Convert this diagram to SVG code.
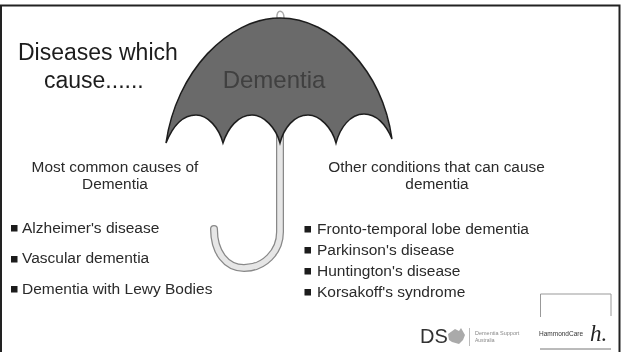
<svg xmlns="http://www.w3.org/2000/svg" width="624" height="352" viewBox="0 0 624 352">
<defs>
<style>
text{font-family:"Liberation Sans",Arial,sans-serif;fill:#2a2a2a}
.h{font-size:23px;fill:#1c1c1c}
.c{font-size:15.400px;text-anchor:middle}
.b{font-size:15.500px}
.sq{fill:#1c1c1c}
</style>
<filter id="soft" x="-5%" y="-5%" width="110%" height="110%"><feGaussianBlur stdDeviation="0.400"/></filter>
</defs>
<rect width="624" height="352" fill="#fff"/>
<path id="frame" d="M1 352V5.500H619.500V352" fill="none" stroke="#222" stroke-width="2"/>
<g id="title" filter="url(#soft)">
<text class="h" x="18" y="60">Diseases which</text>
<text class="h" x="44" y="88">cause......</text>
</g>
<g id="umbrella" filter="url(#soft)">
<path d="M277 18C276 9 284 9 284 18" fill="none" stroke="#aaa" stroke-width="1.500"/>
<path d="M280 136V232C280 252 264 268 244 268C226 268 214 252 214 229" fill="none" stroke="#888" stroke-width="8" stroke-linecap="round"/>
<path d="M280 136V232C280 252 264 268 244 268C226 268 214 252 214 229" fill="none" stroke="#e6e6e6" stroke-width="5.500" stroke-linecap="round"/>
<path d="M166 143C176 72 228 18 280 18C332 18 382 70 392 139C386 124 376 114 364 114C350 114 340 128 336 143C332 128 320 115 308 115C294 115 284 128 280 143C276 128 264 115 252 115C238 115 228 128 223 143C219 128 208 115 196 115C182 115 172 128 166 143Z" fill="#6a6a6a" stroke="#1e1e1e" stroke-width="1.500"/>
<text x="274" y="88" font-size="24" text-anchor="middle" style="fill:#404040">Dementia</text>
</g>
<g id="left-list" filter="url(#soft)">
<text class="c" x="115" y="172">Most common causes of</text>
<text class="c" x="115" y="189">Dementia</text>
<rect class="sq" x="11" y="225" width="6.500" height="6.500"/>
<text class="b" x="22" y="233">Alzheimer's disease</text>
<rect class="sq" x="11" y="256" width="6.500" height="6.500"/>
<text class="b" x="22" y="263">Vascular dementia</text>
<rect class="sq" x="11" y="286" width="6.500" height="6.500"/>
<text class="b" x="22" y="294">Dementia with Lewy Bodies</text>
</g>
<g id="right-list" filter="url(#soft)">
<text class="c" x="436.500" y="172">Other conditions that can cause</text>
<text class="c" x="437" y="189">dementia</text>
<rect class="sq" x="304.500" y="226" width="6.500" height="6.500"/>
<text class="b" x="317" y="234">Fronto-temporal lobe dementia</text>
<rect class="sq" x="304.500" y="247" width="6.500" height="6.500"/>
<text class="b" x="317" y="255">Parkinson's disease</text>
<rect class="sq" x="304.500" y="268" width="6.500" height="6.500"/>
<text class="b" x="317" y="276">Huntington's disease</text>
<rect class="sq" x="304.500" y="289" width="6.500" height="6.500"/>
<text class="b" x="317" y="297">Korsakoff's syndrome</text>
</g>
<g id="logos" filter="url(#soft)">
<text x="420" y="343" font-size="20" style="fill:#333">DS</text>
<path d="M448 334L455 329L459 331L461 328L465 335L463 340L459 344L452 342L449 340Z" fill="#aaa"/>
<path d="M469.500 328V346" stroke="#bbb" fill="none"/>
<text x="475" y="335" font-size="5.500" style="fill:#888">Dementia Support</text>
<text x="475" y="342" font-size="5" style="fill:#888">Australia</text>
<path d="M540.500 317V294H611V316" fill="none" stroke="#999"/>
<path d="M540 349H611" stroke="#777" fill="none"/>
<text x="539" y="336" font-size="6.500" style="fill:#333">HammondCare</text>
<text x="590" y="341" font-size="23" font-style="italic" style="font-family:'Liberation Serif',serif;fill:#222">h.</text>
</g>
</svg>
